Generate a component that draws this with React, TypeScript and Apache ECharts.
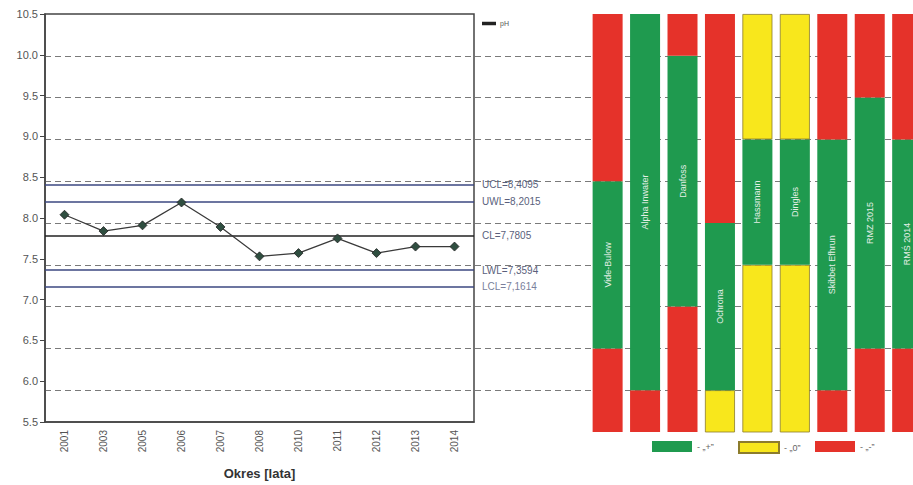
import React, { useEffect, useRef } from "react";
import * as echarts from "echarts";

const years = ["2001", "2003", "2005", "2006", "2007", "2008", "2010", "2011", "2012", "2013", "2014"];
const phValues = [8.04, 7.84, 7.91, 8.19, 7.89, 7.53, 7.57, 7.75, 7.57, 7.65, 7.65];

const limitNames = ["UCL", "UWL", "CL", "LWL", "LCL"];
const limitValues = [8.4095, 8.2015, 7.7805, 7.3594, 7.1614];

const yTicks = { min: 5.5, max: 10.5, step: 0.5 };

const systems = ["Vide-Bulow", "Alpha Inwater", "Danfoss", "Ochrona", "Hassmann", "Dingles", "Skibbet Efhrun", "RMZ 2015", "RMŚ 2014"];
// lower and upper limit of the "+" (green) range for every system
const greenFrom = [6.5, 6.0, 7.0, 6.0, 7.5, 7.5, 6.0, 6.5, 6.5];
const greenTo = [8.5, 10.5, 10.0, 8.0, 9.0, 9.0, 9.0, 9.5, 9.0];
// class below and above the green range: "0" or "-"
const belowClass = ["-", "-", "-", "0", "0", "0", "-", "-", "-"];
const aboveClass = ["-", "-", "-", "-", "0", "0", "-", "-", "-"];

const classNames = ["- „+”", "- „0”", "- „-”"];

const GREEN = "#1f9a4f";
const YELLOW = "#f8e71c";
const RED = "#e5322a";

const FONT = "Arial, 'Liberation Sans', sans-serif";

function clsStyle(c: string) {
  if (c === "0") return { color: YELLOW, borderColor: "#8c7c2c", borderWidth: 0.8 };
  return { color: RED };
}

export default function App() {
  const ref = useRef<HTMLDivElement>(null);

  useEffect(() => {
    if (!ref.current) return;
    const chart = echarts.init(ref.current, null, { renderer: "svg" });

    const lineColors = ["#3b4781", "#3b4781", "#222222", "#3b4781", "#3b4781"];
    const labelColors = ["#5a5f7c", "#5a5f7c", "#5a5f7c", "#5a5f7c", "#7a7f9c"];

    const markData = limitValues.map((v, i) => ({
      yAxis: v,
      lineStyle: { color: lineColors[i], width: 1.5, type: "solid" },
      label: {
        show: true,
        position: "end",
        distance: 8,
        color: labelColors[i],
        fontSize: 10,
        fontFamily: FONT,
        formatter: `${limitNames[i]}=${v.toFixed(4).replace(".", ",")}`,
      },
    }));

    const bottomData = greenFrom.map((v, i) => ({ value: v, itemStyle: clsStyle(belowClass[i]) }));
    const middleData = greenFrom.map((v, i) => ({ value: greenTo[i] - v, itemStyle: { color: GREEN } }));
    const topData = greenTo.map((v, i) => ({ value: yTicks.max - v, itemStyle: clsStyle(aboveClass[i]) }));

    const legendBase = {
      selectedMode: false,
      top: 436,
      itemWidth: 40,
      itemHeight: 11,
      icon: "rect",
      itemGap: 5,
      textStyle: { fontSize: 9, color: "#666", fontFamily: FONT },
    };

    chart.setOption({
      animation: false,
      backgroundColor: "#ffffff",
      textStyle: { fontFamily: FONT },
      grid: [
        { left: 45, right: 0, top: 14, height: 418 },
        { left: 45, width: 429, top: 14, height: 418, show: true, borderColor: "#444", borderWidth: 1.5, backgroundColor: "transparent" },
        { left: 592, width: 337, top: 14, height: 418 },
      ],
      legend: [
        {
          selectedMode: false,
          left: 477,
          top: 15,
          itemWidth: 12,
          itemHeight: 1.5,
          itemGap: 4,
          data: [{ name: "pH", icon: "rect", itemStyle: { color: "#444" } }],
          textStyle: { fontSize: 7, color: "#555", fontFamily: FONT },
        },
        { ...legendBase, left: 647, data: [classNames[0]] },
        { ...legendBase, left: 733, data: [classNames[1]] },
        { ...legendBase, left: 810, data: [classNames[2]] },
      ],
      xAxis: [
        { gridIndex: 0, type: "value", show: false, min: 0, max: 1 },
        {
          gridIndex: 1,
          type: "category",
          data: years,
          boundaryGap: true,
          axisLine: { lineStyle: { color: "#444", width: 1.5 } },
          axisTick: { alignWithLabel: true, length: 5, lineStyle: { color: "#444" } },
          axisLabel: { rotate: 90, fontSize: 10, color: "#555", margin: 8 },
          name: "Okres [lata]",
          nameLocation: "middle",
          nameGap: 45,
          nameTextStyle: { fontSize: 13, fontWeight: "bold", color: "#333", fontFamily: FONT },
        },
        { gridIndex: 2, type: "category", data: systems, show: false },
      ],
      yAxis: [
        {
          gridIndex: 0,
          type: "value",
          min: yTicks.min,
          max: yTicks.max,
          interval: yTicks.step,
          axisLine: { show: false },
          axisTick: { show: false },
          axisLabel: { show: false },
          splitLine: { show: true, showMinLine: false, showMaxLine: false, lineStyle: { color: "#7a7a7a", type: [6, 4], width: 1 } },
        },
        {
          gridIndex: 1,
          type: "value",
          min: yTicks.min,
          max: yTicks.max,
          interval: yTicks.step,
          axisLine: { show: true, lineStyle: { color: "#444", width: 1.5 } },
          axisTick: { show: true, length: 5, lineStyle: { color: "#444" } },
          axisLabel: { fontSize: 11, color: "#555", margin: 7, formatter: (v: number) => v.toFixed(1) },
          splitLine: { show: false },
        },
        { gridIndex: 2, type: "value", min: yTicks.min, max: yTicks.max, interval: yTicks.step, show: false, splitLine: { show: false } },
      ],
      series: [
        {
          name: "pH",
          type: "line",
          xAxisIndex: 1,
          yAxisIndex: 1,
          data: phValues,
          symbol: "diamond",
          symbolSize: 9,
          lineStyle: { color: "#3a3a3a", width: 1.3 },
          itemStyle: { color: "#2f4e40", borderColor: "#222", borderWidth: 0.8 },
          z: 5,
          markLine: { symbol: "none", silent: true, data: markData },
        },
        {
          name: "bottom",
          type: "bar",
          xAxisIndex: 2,
          yAxisIndex: 2,
          stack: "cls",
          barWidth: 30,
          clip: true,
          data: bottomData,
        },
        {
          name: "middle",
          type: "bar",
          xAxisIndex: 2,
          yAxisIndex: 2,
          stack: "cls",
          barWidth: 30,
          clip: true,
          data: middleData,
          label: { show: true, position: "inside", rotate: 90, color: "#e3efe6", fontSize: 9, formatter: "{b}" },
        },
        {
          name: "top",
          type: "bar",
          xAxisIndex: 2,
          yAxisIndex: 2,
          stack: "cls",
          barWidth: 30,
          clip: true,
          data: topData,
        },
        { name: classNames[0], type: "bar", xAxisIndex: 2, yAxisIndex: 2, data: [], itemStyle: { color: GREEN } },
        { name: classNames[1], type: "bar", xAxisIndex: 2, yAxisIndex: 2, data: [], itemStyle: { color: YELLOW, borderColor: "#8c7c2c", borderWidth: 0.8 } },
        { name: classNames[2], type: "bar", xAxisIndex: 2, yAxisIndex: 2, data: [], itemStyle: { color: RED } },
      ],
    });

    return () => chart.dispose();
  }, []);

  return (
    <div style={{ width: 913, height: 485, position: "absolute", left: 0, top: 0, overflow: "hidden" }}>
      <div ref={ref} style={{ width: 930, height: 485 }} />
    </div>
  );
}
